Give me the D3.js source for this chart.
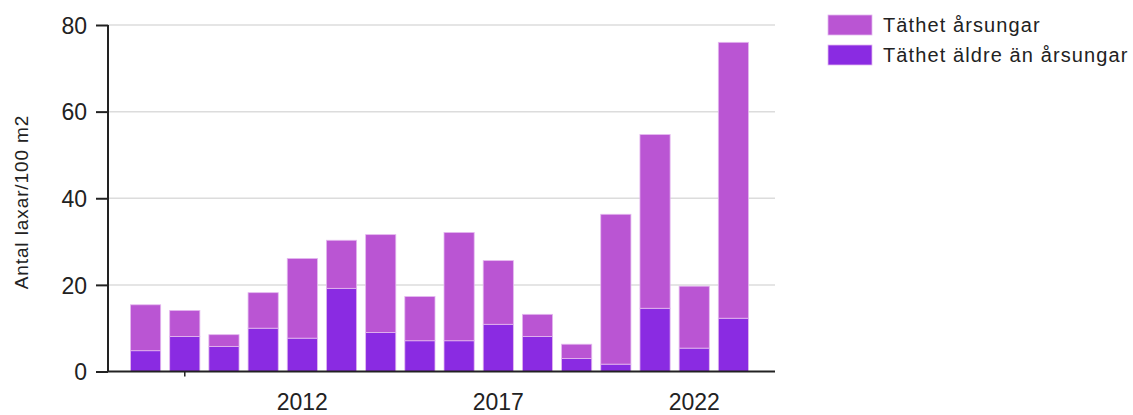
<!DOCTYPE html>
<html>
<head>
<meta charset="utf-8">
<script src="https://cdn.jsdelivr.net/npm/d3@7"></script>
<style>
  body { margin: 0; background: #fff; }
  svg text { font-family: "Liberation Sans", Arial, sans-serif; fill: #222; }
</style>
</head>
<body>
<div id="chart"></div>
<script>
// years on the x axis
var years = [2008, 2009, 2010, 2011, 2012, 2013, 2014, 2015, 2016, 2017, 2018, 2019, 2020, 2021, 2022, 2023];
// Täthet äldre än årsungar (bottom part)
var aldre = [4.8, 8.1, 5.8, 10.0, 7.7, 19.2, 9.0, 7.1, 7.1, 10.9, 8.1, 3.0, 1.7, 14.6, 5.4, 12.3];
// Täthet årsungar (top part)
var arsungar = [10.6, 6.0, 2.7, 8.2, 18.4, 11.1, 22.6, 10.2, 25.0, 14.7, 5.1, 3.3, 34.6, 40.1, 14.3, 63.7];
var yTicks = [0, 20, 40, 60, 80];
var xLabelYears = [2012, 2017, 2022];
var seriesNames = ["Täthet årsungar", "Täthet äldre än årsungar"];
var colors = { arsungar: "#ba55d3", aldre: "#8a2be2" };

var W = 1133, H = 415;
var plotLeft = 108, plotRight = 775, plotTop = 25, plotBottom = 371.5;

var svg = d3.select("#chart").append("svg")
    .attr("width", W).attr("height", H);

var y = d3.scaleLinear().domain([0, 80]).range([plotBottom, plotTop]);
var x = d3.scaleBand().domain(years).range([126, 753])
    .paddingInner(0.23).paddingOuter(0.115);

// gridlines
svg.append("g").selectAll("line")
    .data(yTicks.filter(function(d) { return d > 0; }))
    .enter().append("line")
    .attr("x1", plotLeft).attr("x2", plotRight)
    .attr("y1", function(d) { return y(d); })
    .attr("y2", function(d) { return y(d); })
    .attr("stroke", "#dcdcdc").attr("stroke-width", 1.5);

// stacked data
var rows = years.map(function(yr, i) {
    return { year: yr, aldre: aldre[i], arsungar: arsungar[i] };
});
var stack = d3.stack().keys(["aldre", "arsungar"])(rows);

svg.append("g").selectAll("g")
    .data(stack).enter().append("g")
    .attr("fill", function(s) { return colors[s.key]; })
    .selectAll("rect")
    .data(function(s) { return s; })
    .enter().append("rect")
    .attr("x", function(d) { return x(d.data.year); })
    .attr("width", x.bandwidth())
    .attr("y", function(d) { return y(d[1]); })
    .attr("height", function(d) { return y(d[0]) - y(d[1]); })
    .attr("stroke", "#e4b8ef").attr("stroke-width", 0.8);

// y axis
var yAxis = svg.append("g")
    .attr("transform", "translate(" + plotLeft + ",0)")
    .call(d3.axisLeft(y).tickValues(yTicks).tickSize(12).tickPadding(9));
yAxis.select(".domain").attr("stroke", "#222").attr("stroke-width", 2).attr("d", "M0," + plotTop + "V" + plotBottom);
yAxis.selectAll(".tick line").attr("stroke", "#222").attr("stroke-width", 2);
yAxis.selectAll("text").style("font-size", "23px").attr("dy", "0.36em");

// x axis
svg.append("line")
    .attr("x1", plotLeft).attr("x2", plotRight)
    .attr("y1", plotBottom).attr("y2", plotBottom)
    .attr("stroke", "#222").attr("stroke-width", 2);
// lone tick mark under 2009
svg.append("line")
    .attr("x1", x(2009) + x.bandwidth() / 2).attr("x2", x(2009) + x.bandwidth() / 2)
    .attr("y1", plotBottom).attr("y2", plotBottom + 5)
    .attr("stroke", "#222").attr("stroke-width", 1.5);
svg.append("g").selectAll("text")
    .data(xLabelYears).enter().append("text")
    .attr("x", function(d) { return x(d) + x.bandwidth() / 2; })
    .attr("y", 410)
    .attr("text-anchor", "middle")
    .style("font-size", "23px")
    .text(function(d) { return d; });

// y axis title
svg.append("text")
    .attr("transform", "translate(28,202) rotate(-90)")
    .attr("text-anchor", "middle")
    .style("font-size", "19px").style("letter-spacing", "0.9px")
    .text("Antal laxar/100 m2");

// legend
var legend = svg.append("g").selectAll("g")
    .data(seriesNames).enter().append("g")
    .attr("transform", function(d, i) { return "translate(828," + (15 + i * 30) + ")"; });
legend.append("rect")
    .attr("width", 44).attr("height", 20)
    .attr("fill", function(d, i) { return i === 0 ? colors.arsungar : colors.aldre; })
    .attr("stroke", "#e4b8ef").attr("stroke-width", 0.8);
legend.append("text")
    .attr("x", 55).attr("y", 10).attr("dy", "0.36em")
    .style("font-size", "20px").style("letter-spacing", "1.1px")
    .text(function(d) { return d; });
</script>
</body>
</html>
